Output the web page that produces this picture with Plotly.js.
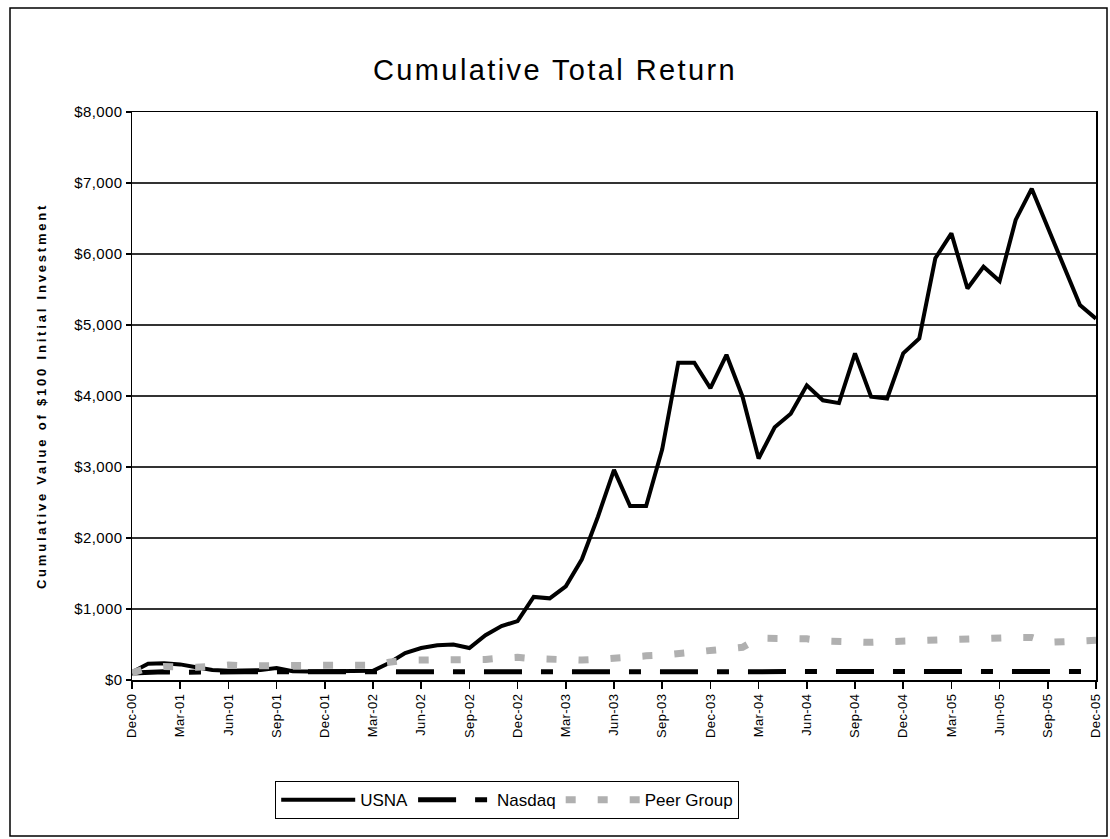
<!DOCTYPE html>
<html>
<head>
<meta charset="utf-8">
<script src="https://cdn.plot.ly/plotly-3.0.1.min.js"></script>
<style>
  html, body { margin: 0; padding: 0; background: #fff; }
  #chart { width: 1110px; height: 839px; }
  .ytitle { letter-spacing: 2.8px; }
  .gtitle { letter-spacing: 2.4px; }
  .ytick text { letter-spacing: 0.4px; }
  .xtick text { letter-spacing: 0.4px; }
</style>
</head>
<body>
<div id="chart"></div>
<script>
const months = [
  "Dec-00",
  "Jan-01","Feb-01","Mar-01","Apr-01","May-01","Jun-01","Jul-01","Aug-01","Sep-01","Oct-01","Nov-01","Dec-01",
  "Jan-02","Feb-02","Mar-02","Apr-02","May-02","Jun-02","Jul-02","Aug-02","Sep-02","Oct-02","Nov-02","Dec-02",
  "Jan-03","Feb-03","Mar-03","Apr-03","May-03","Jun-03","Jul-03","Aug-03","Sep-03","Oct-03","Nov-03","Dec-03",
  "Jan-04","Feb-04","Mar-04","Apr-04","May-04","Jun-04","Jul-04","Aug-04","Sep-04","Oct-04","Nov-04","Dec-04",
  "Jan-05","Feb-05","Mar-05","Apr-05","May-05","Jun-05","Jul-05","Aug-05","Sep-05","Oct-05","Nov-05","Dec-05"
];

const usna = [
  110,
  230,235,220,180,140,130,135,140,170,125,120,125,
  125,125,130,240,380,450,490,500,450,630,760,830,
  1170,1150,1320,1700,2300,2960,2450,2450,3250,4470,4470,4110,
  4580,3990,3120,3560,3750,4150,3940,3900,4600,3990,3965,4600,
  4810,5940,6290,5515,5820,5620,6480,6920,6370,5830,5280,5090
];

const nasdaq = [
  100,
  115,115,110,115,115,115,115,115,110,115,115,115,
  115,115,115,110,110,110,110,110,105,110,110,110,
  110,110,110,110,110,115,115,115,115,115,120,120,
  120,120,120,115,115,120,115,115,115,120,120,120,
  120,120,115,120,120,120,120,120,120,120,120,120
];

const peer = [
  100,
  170,190,180,180,190,210,200,200,210,190,190,190,
  200,210,210,250,280,280,280,290,290,290,310,320,
  300,290,280,280,290,315,330,340,350,370,380,400,
  420,460,590,590,590,580,550,540,530,530,540,550,
  560,565,565,570,590,600,600,600,530,540,550,560
];

const tickLabels = ["Dec-00","Mar-01","Jun-01","Sep-01","Dec-01","Mar-02","Jun-02","Sep-02",
  "Dec-02","Mar-03","Jun-03","Sep-03","Dec-03","Mar-04","Jun-04","Sep-04","Dec-04",
  "Mar-05","Jun-05","Sep-05","Dec-05"];

const seriesNames = ["USNA", "Nasdaq", "Peer Group"];

const W = 1110, H = 839;
const M = {l: 132, r: 14, t: 112, b: 159};
const pw = W - M.l - M.r, ph = H - M.t - M.b;
function px2x(p) { return (p - M.l) / pw; }
function py2y(p) { return (H - M.b - p) / ph; }

const font = "Liberation Sans, Arial, sans-serif";

const traces = [
  {x: months, y: nasdaq, name: seriesNames[1], type: "scatter", mode: "lines",
   line: {color: "#000000", width: 5, dash: "38px,19px,12px,19px"}, legendrank: 2},
  {x: months, y: usna, name: seriesNames[0], type: "scatter", mode: "lines",
   line: {color: "#000000", width: 4}, legendrank: 1},
  {x: months, y: peer, name: seriesNames[2], type: "scatter", mode: "lines",
   line: {color: "#b0b0b0", width: 7, dash: "10px,22px"}, legendrank: 3}
];

const layout = {
  width: W, height: H,
  margin: M,
  paper_bgcolor: "#ffffff",
  plot_bgcolor: "#ffffff",
  font: {family: font, color: "#000"},
  showlegend: true,
  title: {
    text: "Cumulative Total Return",
    font: {family: font, size: 29, color: "#000"},
    x: 0.5, xref: "container", xanchor: "center",
    y: 1 - 70 / H, yref: "container", yanchor: "middle"
  },
  xaxis: {
    type: "category",
    range: [0, months.length - 1],
    tickmode: "array",
    tickvals: tickLabels,
    ticktext: tickLabels,
    tickangle: -90,
    ticks: "outside", ticklen: 7, tickwidth: 1.5, tickcolor: "#000",
    showline: true, linecolor: "#000", linewidth: 1.5, mirror: true,
    showgrid: false, zeroline: false,
    tickfont: {family: font, size: 13, color: "#000"}
  },
  yaxis: {
    range: [0, 8000],
    dtick: 1000, tick0: 0,
    tickprefix: "$", tickformat: ",d",
    ticks: "outside", ticklen: 5, tickwidth: 1.5, tickcolor: "#000",
    showline: true, linecolor: "#000", linewidth: 1.5, mirror: true,
    showgrid: true, gridcolor: "#333333", gridwidth: 1.5,
    zeroline: false,
    tickfont: {family: font, size: 15, color: "#000"},
    title: {text: "Cumulative Value of $100 Initial Investment",
            font: {family: font, size: 13, color: "#000", weight: "bold"},
            standoff: 24}
  },
  legend: {
    orientation: "h",
    traceorder: "normal",
    x: px2x(507), xanchor: "center",
    y: py2y(800), yanchor: "middle",
    bordercolor: "#000", borderwidth: 1.2,
    bgcolor: "#fff",
    itemwidth: 74,
    font: {family: font, size: 17, color: "#000"}
  },
  shapes: [{
    type: "rect", xref: "paper", yref: "paper",
    x0: px2x(10), x1: px2x(1107), y0: py2y(836), y1: py2y(8),
    line: {color: "#000", width: 1.5}, fillcolor: "rgba(0,0,0,0)", layer: "below"
  }]
};

Plotly.newPlot("chart", traces, layout, {displayModeBar: false, staticPlot: true});
</script>
</body>
</html>
